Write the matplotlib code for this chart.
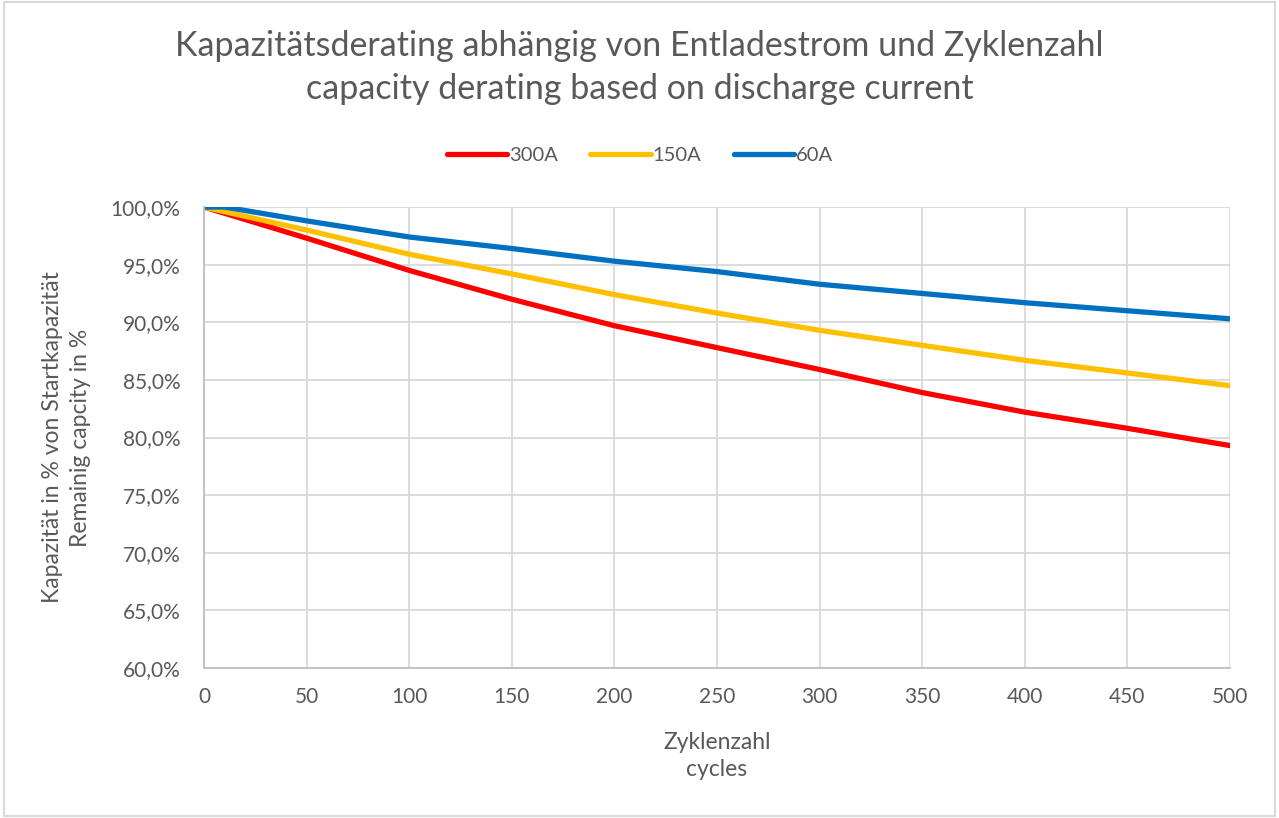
import matplotlib.pyplot as plt
from matplotlib.patches import Rectangle
from matplotlib.ticker import FuncFormatter, MultipleLocator

# remaining capacity in % vs. cycle count, per discharge current
cycles = [0, 50, 100, 150, 200, 250, 300, 350, 400, 450, 500]
cap_300a = [100.0, 97.3, 94.5, 92.0, 89.7, 87.8, 85.9, 83.9, 82.2, 80.8, 79.3]
cap_150a = [100.0, 98.0, 95.9, 94.2, 92.4, 90.8, 89.3, 88.0, 86.7, 85.6, 84.5]
cycles_60a = [0, 10, 50, 100, 150, 200, 250, 300, 350, 400, 450, 500]
cap_60a = [100.0, 100.0, 98.8, 97.4, 96.4, 95.3, 94.4, 93.3, 92.5, 91.7, 91.0, 90.3]

series_names = ['300A', '150A', '60A']
title_text = ('Kapazitätsderating abhängig von Entladestrom und Zyklenzahl\n'
              'capacity derating based on discharge current')
xlabel_text = 'Zyklenzahl\ncycles'
ylabel_text = 'Kapazität in % von Startkapazität\nRemainig capcity in %'

text_col = '#595959'
grid_col = '#D9D9D9'
plt.rcParams['font.family'] = ['Lato', 'DejaVu Sans']

fig = plt.figure(figsize=(12.79, 8.18), dpi=100)
ax = fig.add_axes([0.1595, 0.1834, 0.8022, 0.5635])

ax.plot(cycles, cap_300a, color='#FF0000', lw=3.8, label=series_names[0])
ax.plot(cycles, cap_150a, color='#FFC000', lw=3.8, label=series_names[1])
ax.plot(cycles_60a, cap_60a, color='#0070C0', lw=3.8, label=series_names[2])

ax.set_xlim(0, 500)
ax.set_ylim(60, 100)
ax.xaxis.set_major_locator(MultipleLocator(50))
ax.yaxis.set_major_locator(MultipleLocator(5))
ax.yaxis.set_major_formatter(FuncFormatter(lambda v, p: f'{v:.1f}%'.replace('.', ',')))
ax.grid(True, color=grid_col, lw=1.3)
ax.set_axisbelow(True)
ax.tick_params(length=0, labelsize=15, labelcolor=text_col)
ax.tick_params(axis='y', pad=17)
ax.tick_params(axis='x', pad=14)
for side in ['top', 'right']:
    ax.spines[side].set_visible(False)
for side in ['left', 'bottom']:
    ax.spines[side].set_color('#BFBFBF')
    ax.spines[side].set_linewidth(1.3)

ax.set_xlabel(xlabel_text, fontsize=16.5, color=text_col, labelpad=18, linespacing=1.35)
ax.set_ylabel(ylabel_text, fontsize=16.5, color=text_col, labelpad=14, linespacing=1.4)

fig.text(0.5, 0.963, title_text, ha='center', va='top', fontsize=24.5,
         color=text_col, linespacing=1.4)

leg = ax.legend(loc='lower center', bbox_to_anchor=(0.425, 1.055), ncol=3, frameon=False,
                fontsize=14.5, handlelength=3.0, handletextpad=0.1, columnspacing=1.6)
for t in leg.get_texts():
    t.set_color(text_col)
for h in leg.get_lines():
    h.set_solid_capstyle('round')

# light frame around the whole chart
fig.patches.append(Rectangle((0.003, 0.003), 0.994, 0.994, transform=fig.transFigure,
                             fill=False, edgecolor=grid_col, lw=1.5))

fig.savefig('out.png', dpi=100)
